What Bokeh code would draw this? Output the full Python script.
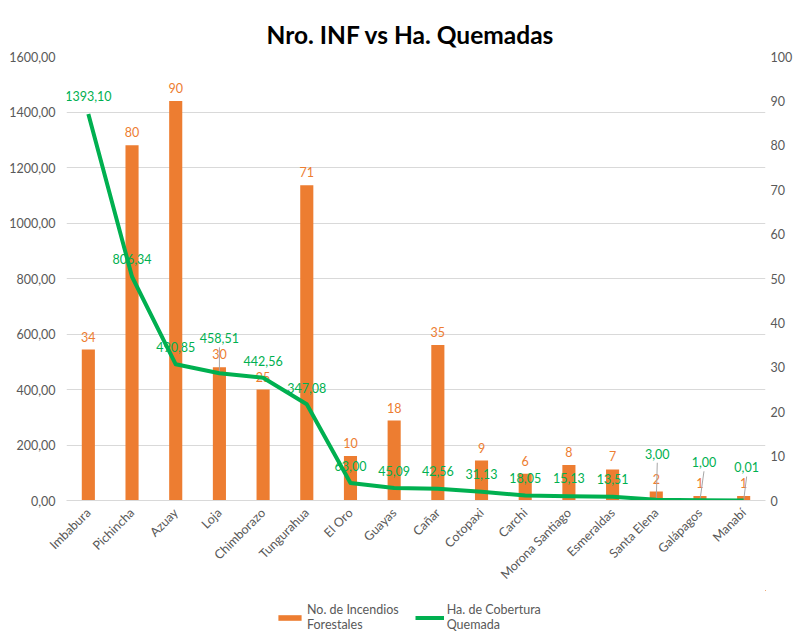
from bokeh.plotting import figure
from bokeh.layouts import column
from bokeh.models import (Range1d, LinearAxis, FixedTicker, CustomJSTickFormatter,
                          Legend, LegendItem)
from bokeh.core.properties import value
from bokeh.embed import file_html
from bokeh.resources import INLINE
import math

# ---------------- data ----------------
provincias = ["Imbabura", "Pichincha", "Azuay", "Loja", "Chimborazo", "Tungurahua",
              "El Oro", "Guayas", "Cañar", "Cotopaxi", "Carchi", "Morona Santiago",
              "Esmeraldas", "Santa Elena", "Galápagos", "Manabí"]
incendios = [34, 80, 90, 30, 25, 71, 10, 18, 35, 9, 6, 8, 7, 2, 1, 1]
hectareas = [1393.10, 806.34, 490.85, 458.51, 442.56, 347.08, 63.00, 45.09,
             42.56, 31.13, 18.05, 15.13, 13.51, 3.00, 1.00, 0.01]
ticks_ha = [0, 200, 400, 600, 800, 1000, 1200, 1400, 1600]
ticks_inc = [0, 10, 20, 30, 40, 50, 60, 70, 80, 90, 100]

# ---------------- styles ----------------
FONT = "Lato"
ORANGE = "#ED7D31"
GREEN = "#00B050"
GRAY = "#595959"
GRID = "#D9D9D9"
LEADER = "#A6A6A6"
FS = "12.5px"

# pixel nudges of the line's data labels (as placed in the original)
ha_dx = [0] * 13 + [1, 4, 3]
ha_dy = [-18, -18, -17, -35, -17, -16, -17, -17, -18, -18, -17, -18, -18, -46, -38, -33]
leader_idx = [3, 13, 14, 15]
FRAME_H = 445.0
FRAME_W = 701.0

W = 795
H_MAIN = 590
H_LEG = 42

n = len(provincias)
xs = [i + 0.5 for i in range(n)]

p = figure(width=W, height=H_MAIN, x_range=Range1d(0, n), y_range=Range1d(0, 1600),
           output_backend="svg", toolbar_location=None,
           min_border_left=66, min_border_right=20, min_border_top=56,
           min_border_bottom=89)
p.extra_y_ranges = {"inc": Range1d(0, 100)}
p.outline_line_color = None
p.background_fill_color = "white"
p.border_fill_color = "white"

# title
p.title.text = "Nro. INF vs Ha. Quemadas"
p.title.align = "left"
p.title.text_font = FONT
p.title.text_font_style = "bold"
p.title.text_font_size = "24.5px"
p.title.text_color = "#000000"
p.title.offset = 200
p.title.standoff = 16

def style_axis(ax, standoff):
    ax.axis_line_color = None
    ax.major_tick_line_color = None
    ax.minor_tick_line_color = None
    ax.major_tick_out = 0
    ax.major_tick_in = 0
    ax.minor_tick_out = 0
    ax.minor_tick_in = 0
    ax.major_label_text_font = FONT
    ax.major_label_text_font_size = FS
    ax.major_label_text_color = GRAY
    ax.major_label_standoff = standoff

# left axis
ya = p.yaxis[0]
ya.ticker = FixedTicker(ticks=ticks_ha)
ya.formatter = CustomJSTickFormatter(code="return tick.toFixed(2).replace('.', ',');")
style_axis(ya, 11)

# right axis
ra = LinearAxis(y_range_name="inc", ticker=FixedTicker(ticks=ticks_inc))
style_axis(ra, 5)
p.add_layout(ra, "right")

# x axis
xa = p.xaxis[0]
xa.ticker = FixedTicker(ticks=xs)
xa.major_label_overrides = {x: name for x, name in zip(xs, provincias)}
xa.major_label_orientation = math.pi / 4
style_axis(xa, 10)
xa.axis_line_color = GRID

p.xgrid.visible = False
p.ygrid.grid_line_color = GRID
p.ygrid.ticker = FixedTicker(ticks=ticks_ha)

# bars
bars = p.vbar(x=xs, top=incendios, width=0.3, y_range_name="inc",
              fill_color=ORANGE, line_color=None)

# bar labels
p.text(x=xs, y=incendios, text=[str(v) for v in incendios], y_range_name="inc",
       y_offset=-13, text_align="center", text_baseline="middle",
       text_font=value(FONT), text_font_size=FS, text_color=ORANGE)

# line labels
p.text(x=xs, y=hectareas, text=[f"{v:.2f}".replace(".", ",") for v in hectareas],
       x_offset=ha_dx, y_offset=ha_dy, text_align="center", text_baseline="middle",
       text_font=value(FONT), text_font_size=FS, text_color=GREEN)

# leader lines
px_y = 1600.0 / FRAME_H
px_x = n / FRAME_W
x0 = [xs[i] + ha_dx[i] * px_x for i in leader_idx]
y0 = [hectareas[i] + (-ha_dy[i] - 9) * px_y for i in leader_idx]
x1 = [xs[i] for i in leader_idx]
y1 = [hectareas[i] for i in leader_idx]
p.segment(x0=x0, y0=y0, x1=x1, y1=y1, line_color=LEADER, line_width=1)

# line
line = p.line(x=xs, y=hectareas, line_color=GREEN, line_width=4, line_join="round")

# ---------------- legend strip ----------------
# same series drawn far outside this strip's ranges, only so the legend shows their swatches
lp = figure(width=W, height=H_LEG, x_range=Range1d(-1000, -999),
            y_range=Range1d(-100000, -99999),
            output_backend="svg", toolbar_location=None,
            x_axis_location=None, y_axis_location=None,
            min_border_left=0, min_border_right=0, min_border_top=0, min_border_bottom=0)
lp.grid.visible = False
lp.outline_line_color = None
lp.border_fill_color = "white"
lp.background_fill_color = "white"
lb = lp.vbar(x=xs, top=incendios, width=0.3, fill_color=ORANGE, line_color=None)
ll = lp.line(x=xs, y=hectareas, line_color=GREEN, line_width=4)

legend = Legend(items=[LegendItem(label="No. de Incendios\nForestales", renderers=[lb]),
                       LegendItem(label="Ha. de Cobertura\nQuemada", renderers=[ll])],
                orientation="horizontal", location=(209, 0))
legend.border_line_color = None
legend.background_fill_alpha = 0
legend.label_text_font = FONT
legend.label_text_font_size = FS
legend.label_text_color = GRAY
legend.glyph_width = 29
legend.glyph_height = 7
legend.label_standoff = 3
legend.spacing = 16
legend.padding = 3
legend.margin = 0
lp.add_layout(legend, "center")

layout = column(p, lp, spacing=0)
open("out.html", "w").write(file_html(layout, INLINE))
